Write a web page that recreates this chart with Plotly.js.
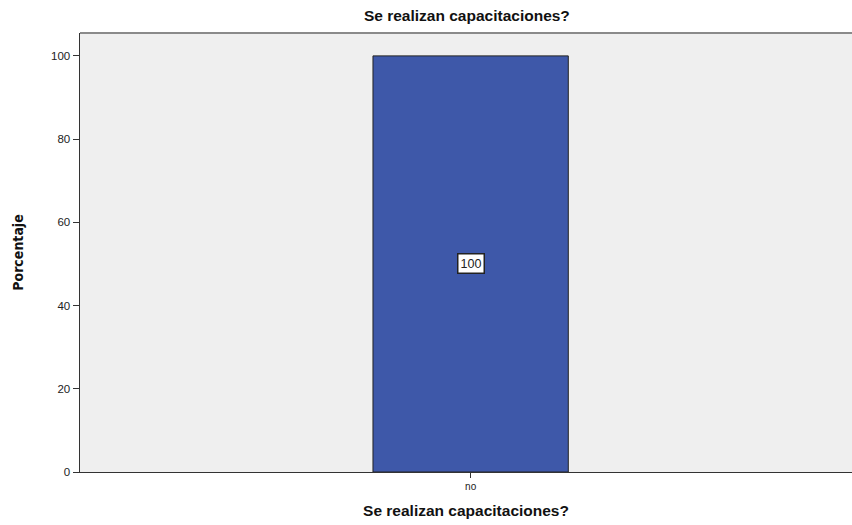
<!DOCTYPE html>
<html><head><meta charset="utf-8">
<script src="https://cdn.plot.ly/plotly-3.0.1.min.js"></script>
<style>html,body{margin:0;padding:0;background:#fff}</style>
</head><body>
<div id="chart" style="width:852px;height:525px"></div>
<script>
const categories = ["no"];
const percentages = [100];
const labels = ["100"];

const trace = {
  type: "bar",
  x: categories,
  y: percentages,
  width: 0.253,
  marker: {color: "#3e58a9", line: {color: "#222222", width: 1}},
  hoverinfo: "x+y"
};

const annotations = categories.map((c, i) => ({
  x: c, y: percentages[i] / 2, text: labels[i], showarrow: false,
  bgcolor: "#ffffff", bordercolor: "#222222", borderwidth: 1.5, borderpad: 2,
  font: {family: "Liberation Sans, Arial, sans-serif", size: 12.5, color: "#222"}
}));

const layout = {
  width: 852, height: 525,
  margin: {l: 80, r: 0, t: 33, b: 53},
  paper_bgcolor: "#ffffff",
  plot_bgcolor: "#efefef",
  showlegend: false,
  title: {text: "<b>Se realizan capacitaciones?</b>", x: 0.548, xanchor: "center", y: 0.97, yanchor: "middle",
          font: {family: "Liberation Sans, Arial, sans-serif", size: 15.5, color: "#111"}},
  xaxis: {
    range: [-0.506, 0.494], showgrid: false, zeroline: false,
    showline: true, linecolor: "#333", linewidth: 1, mirror: false,
    ticks: "outside", ticklen: 5, tickcolor: "#333",
    tickfont: {family: "Liberation Sans, Arial, sans-serif", size: 10, color: "#222"},
    title: {text: "<b>Se realizan capacitaciones?</b>", standoff: 14,
            font: {family: "Liberation Sans, Arial, sans-serif", size: 15.5, color: "#111"}}
  },
  yaxis: {
    range: [0, 105.5], showgrid: false, zeroline: false,
    tickvals: [0, 20, 40, 60, 80, 100],
    showline: true, linecolor: "#333", linewidth: 1.5,
    ticks: "outside", ticklen: 6, tickcolor: "#333",
    tickfont: {family: "Liberation Sans, Arial, sans-serif", size: 11.5, color: "#222"},
    title: {text: "<b>Porcentaje</b>", standoff: 24,
            font: {family: "DejaVu Sans Condensed, Liberation Sans Narrow, sans-serif", size: 14, color: "#111"}}
  },
  annotations: annotations,
  shapes: [{type: "line", xref: "paper", yref: "paper", x0: 0, x1: 1, y0: 1, y1: 1,
            line: {color: "#8a8a8a", width: 2}}]
};

Plotly.newPlot("chart", [trace], layout, {displayModeBar: false, staticPlot: true});
</script>
</body></html>
